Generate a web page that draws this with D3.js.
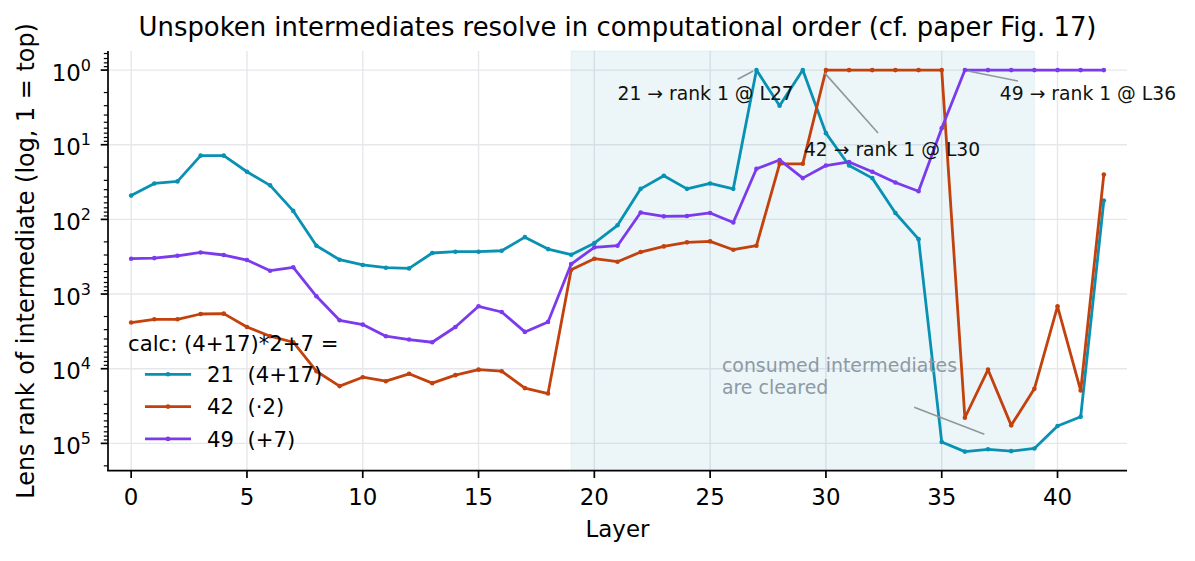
<!DOCTYPE html>
<html>
<head>
<meta charset="utf-8">
<script src="https://cdn.jsdelivr.net/npm/d3@7"></script>
<style>
  body { margin: 0; background: #fff; }
  svg { display: block; font-family: "DejaVu Sans", sans-serif; }
  text { white-space: pre; }
</style>
</head>
<body>
<div id="chart"></div>
<script>
// lens rank of each intermediate, per layer (1 = top prediction)
const layers = d3.range(0, 43);
const rank21 = [48, 33, 31, 14, 14, 23, 35, 77, 225, 347, 408, 444, 453, 282, 271, 271, 263, 173, 250, 297,
  208, 120, 39, 26, 39, 33, 39, 1, 3, 1, 7, 19, 28, 82, 184, 96000, 129000, 120000, 127000, 117000, 58600, 44000, 56];
const rank42 = [2410, 2180, 2180, 1850, 1830, 2760, 3670, 4420, 10800, 17100, 13000, 14700, 11700, 15600, 12200, 10300, 10800, 18200, 21500, 472,
  336, 369, 274, 230, 203, 197, 255, 225, 18, 18, 1, 1, 1, 1, 1, 1, 45400, 10300, 57400, 18600, 1460, 19600, 25];
const rank49 = [336, 330, 307, 277, 300, 350, 487, 439, 1072, 2245, 2565, 3670, 4070, 4420, 2760, 1460, 1740, 3215, 2362, 396,
  237, 225, 81, 91, 90, 82, 110, 21, 16, 28, 19, 17, 23, 32, 42, 6, 1, 1, 1, 1, 1, 1, 1];

const seriesNames = ["21  (4+17)", "42  (·2)", "49  (+7)"];
const seriesColors = ["#0891b2", "#c2410c", "#7c3aed"];
const legendTitle = "calc: (4+17)*2+7 =";
const xTicks = [0, 5, 10, 15, 20, 25, 30, 35, 40];
const yTicks = [0, 1, 2, 3, 4, 5]; // exponents
const shadedSpan = [19, 39];

const annotations = [
  {text: "21 → rank 1 @ L27", head: [26.86, 1.03], tail: [26.19, 1.33], at: [21.0, 2.55]},
  {text: "42 → rank 1 @ L30", head: [29.94, 1.09], tail: [32.25, 6.96], at: [29.05, 14.2]},
  {text: "49 → rank 1 @ L36", head: [36.13, 1.03], tail: [38.29, 1.40], at: [37.51, 2.55]}
];
const note = {lines: ["consumed intermediates", "are cleared"], at: [25.51, 11000],
  tail: [33.81, 32900], head: [36.84, 75500]};

const width = 1195, height = 561;
const m = {left: 108, right: 1127, top: 51, bottom: 470.7};

const series = [rank21, rank42, rank49].map((vals, i) => ({
  name: seriesNames[i], color: seriesColors[i],
  points: layers.map((l, j) => [l, vals[j]])
}));

// log limits with 5% padding, like matplotlib autoscale
const allVals = [...rank21, ...rank42, ...rank49];
const lo = Math.log10(d3.min(allVals)), hi = Math.log10(d3.max(allVals));
const pad = (hi - lo) * 0.05;

const x = d3.scaleLinear().domain([-1, 43]).range([m.left, m.right]);
const y = d3.scaleLog().domain([10 ** (lo - pad), 10 ** (hi + pad)]).range([m.top, m.bottom]);

const svg = d3.select("#chart").append("svg")
    .attr("width", width)
    .attr("height", height)
    .attr("viewBox", [0, 0, width, height]);

// grid
const grid = svg.append("g").attr("stroke", "#e5e7eb").attr("stroke-width", 1.4);
grid.selectAll("line.v").data(xTicks).join("line")
    .attr("x1", d => x(d)).attr("x2", d => x(d))
    .attr("y1", m.top).attr("y2", m.bottom);
grid.selectAll("line.h").data(yTicks).join("line")
    .attr("x1", m.left).attr("x2", m.right)
    .attr("y1", d => y(10 ** d)).attr("y2", d => y(10 ** d));

// shaded region
svg.append("rect")
    .attr("x", x(shadedSpan[0]))
    .attr("y", m.top)
    .attr("width", x(shadedSpan[1]) - x(shadedSpan[0]))
    .attr("height", m.bottom - m.top)
    .attr("fill", "#0891b2")
    .attr("fill-opacity", 0.08)
    .attr("stroke", "#0891b2")
    .attr("stroke-opacity", 0.08);

// series
const line = d3.line().x(d => x(d[0])).y(d => y(d[1]));
const sg = svg.append("g").selectAll("g").data(series).join("g");
sg.append("path")
    .attr("fill", "none")
    .attr("stroke", d => d.color)
    .attr("stroke-width", 2.8)
    .attr("stroke-linejoin", "round")
    .attr("d", d => line(d.points));
sg.selectAll("circle").data(d => d.points.map(p => ({p, c: d.color}))).join("circle")
    .attr("cx", d => x(d.p[0]))
    .attr("cy", d => y(d.p[1]))
    .attr("r", 2.3)
    .attr("fill", d => d.c);

// annotations
const ann = svg.append("g").attr("font-size", 18.75).attr("fill", "#111");
ann.selectAll("line").data(annotations).join("line")
    .attr("x1", d => x(d.tail[0])).attr("y1", d => y(d.tail[1]))
    .attr("x2", d => x(d.head[0])).attr("y2", d => y(d.head[1]))
    .attr("stroke", "#8f979d")
    .attr("stroke-width", 1.6);
ann.selectAll("text").data(annotations).join("text")
    .attr("x", d => x(d.at[0]))
    .attr("y", d => y(d.at[1]))
    .text(d => d.text);

const noteG = svg.append("g");
noteG.append("line")
    .attr("x1", x(note.tail[0])).attr("y1", y(note.tail[1]))
    .attr("x2", x(note.head[0])).attr("y2", y(note.head[1]))
    .attr("stroke", "#8f979d")
    .attr("stroke-width", 1.6);
noteG.append("text")
    .attr("x", x(note.at[0]))
    .attr("y", y(note.at[1]))
    .attr("font-size", 18.9)
    .attr("fill", "#8d99a3")
    .selectAll("tspan").data(note.lines).join("tspan")
    .attr("x", x(note.at[0]))
    .attr("dy", (d, i) => i ? 22.3 : 0)
    .text(d => d);

// axes spines + ticks
const axis = svg.append("g").attr("stroke", "#000");
axis.append("line").attr("x1", m.left).attr("x2", m.left).attr("y1", m.top).attr("y2", m.bottom).attr("stroke-width", 1.7);
axis.append("line").attr("x1", m.left - 0.85).attr("x2", m.right).attr("y1", m.bottom).attr("y2", m.bottom).attr("stroke-width", 1.7);
axis.selectAll("line.xt").data(xTicks).join("line")
    .attr("x1", d => x(d)).attr("x2", d => x(d))
    .attr("y1", m.bottom).attr("y2", m.bottom + 7.3).attr("stroke-width", 1.7);
axis.selectAll("line.yt").data(yTicks).join("line")
    .attr("x1", m.left - 7.3).attr("x2", m.left)
    .attr("y1", d => y(10 ** d)).attr("y2", d => y(10 ** d)).attr("stroke-width", 1.7);

const [d0, d1] = y.domain();
const minor = [];
for (let e = Math.floor(Math.log10(d0)); e <= Math.ceil(Math.log10(d1)); e++) {
  for (let k = 2; k <= 9; k++) {
    const v = k * 10 ** e;
    if (v >= d0 && v <= d1) minor.push(v);
  }
}
axis.selectAll("line.ym").data(minor).join("line")
    .attr("x1", m.left - 4.2).attr("x2", m.left)
    .attr("y1", d => y(d)).attr("y2", d => y(d)).attr("stroke-width", 1.2);

// tick labels
svg.append("g").attr("font-size", 22.9).attr("text-anchor", "middle")
  .selectAll("text").data(xTicks).join("text")
    .attr("x", d => x(d)).attr("y", 505)
    .text(d => d);

const yl = svg.append("g").attr("font-size", 22.9).attr("text-anchor", "end")
  .selectAll("text").data(yTicks).join("text")
    .attr("x", 91).attr("y", d => y(10 ** d) + 10.5);
yl.append("tspan").text("10");
yl.append("tspan").attr("dy", -10).attr("font-size", 16).text(d => d);

// axis labels + title
svg.append("text")
    .attr("x", (m.left + m.right) / 2).attr("y", 537)
    .attr("text-anchor", "middle").attr("font-size", 22.9)
    .text("Layer");
svg.append("text")
    .attr("transform", `translate(34,${(m.top + m.bottom) / 2}) rotate(-90)`)
    .attr("text-anchor", "middle").attr("font-size", 23.9)
    .text("Lens rank of intermediate (log, 1 = top)");
svg.append("text")
    .attr("x", (m.left + m.right) / 2).attr("y", 36)
    .attr("text-anchor", "middle").attr("font-size", 25.9)
    .text("Unspoken intermediates resolve in computational order (cf. paper Fig. 17)");

// legend
const lg = svg.append("g").attr("font-size", 21.2);
lg.append("text").attr("x", 128).attr("y", 351).text(legendTitle);
const entry = lg.selectAll("g").data(series).join("g")
    .attr("transform", (d, i) => `translate(0,${374.3 + i * 32.3})`);
entry.append("line")
    .attr("x1", 145).attr("x2", 191)
    .attr("stroke", d => d.color).attr("stroke-width", 2.8);
entry.append("circle").attr("cx", 168).attr("r", 2.3).attr("fill", d => d.color);
entry.append("text")
    .attr("x", 207).attr("dy", "0.36em")
    .text(d => d.name);
</script>
</body>
</html>
